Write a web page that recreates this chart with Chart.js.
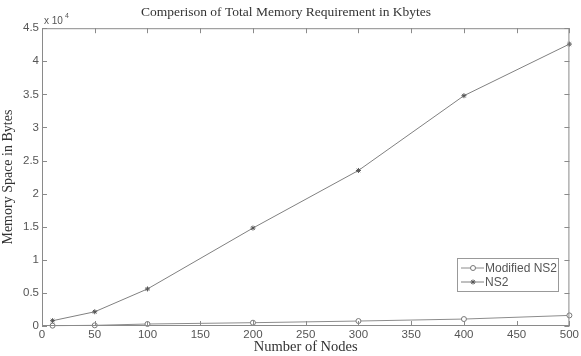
<!DOCTYPE html>
<html lang="en">
<head>
  <meta charset="UTF-8" />
  <title>Comperison of Total Memory Requirement in Kbytes</title>
  <script src="https://cdn.jsdelivr.net/npm/chart.js"></script>
  <style>
    * { box-sizing: border-box; }
    body { margin: 0; background: #fff; }
    #wrap { width: 581px; height: 356px; position: relative; }
  </style>
</head>
<body>
  <div id="wrap"><canvas id="grafico"></canvas></div>

  <script>
    // valores
    const nodes = [10, 50, 100, 200, 300, 400, 500];
    const modifiedNs2 = [50, 100, 300, 500, 750, 1050, 1600];
    const ns2 = [800, 2150, 5600, 14800, 23500, 34800, 42600];
    const xTicks = [0, 50, 100, 150, 200, 250, 300, 350, 400, 450, 500];
    const yTicks = [0, 5000, 10000, 15000, 20000, 25000, 30000, 35000, 40000, 45000];

    const sans = "'Liberation Sans', Arial, sans-serif";
    const serif = "'Liberation Serif', 'Times New Roman', serif";
    const axisColor = '#8a8a8a';
    const textColor = '#555';

    // caixa estilo matlab: ticks para dentro, borda em volta, legenda e expoente
    const matlabBox = {
      id: 'matlabBox',
      afterDraw(chart) {
        const ctx = chart.ctx;
        const a = chart.chartArea;
        const xs = chart.scales.x, ys = chart.scales.y;
        ctx.save();
        ctx.strokeStyle = axisColor;
        ctx.lineWidth = 1;
        ctx.strokeRect(a.left + 0.5, a.top + 0.5, a.right - a.left - 1, a.bottom - a.top - 1);
        ctx.beginPath();
        xTicks.forEach(v => {
          const px = Math.round(xs.getPixelForValue(v)) + 0.5;
          ctx.moveTo(px, a.bottom); ctx.lineTo(px, a.bottom - 5);
          ctx.moveTo(px, a.top); ctx.lineTo(px, a.top + 5);
        });
        yTicks.forEach(v => {
          const py = Math.round(ys.getPixelForValue(v)) + 0.5;
          ctx.moveTo(a.left, py); ctx.lineTo(a.left + 5, py);
          ctx.moveTo(a.right, py); ctx.lineTo(a.right - 5, py);
        });
        ctx.stroke();

        // x 10^4
        ctx.fillStyle = textColor;
        ctx.font = '10px ' + sans;
        ctx.textBaseline = 'alphabetic';
        ctx.fillText('x 10', a.left + 2, a.top - 4);
        ctx.font = '7px ' + sans;
        ctx.fillText('4', a.left + 23, a.top - 10);

        // legenda
        const lx = 457, ly = 258, lw = 101, lh = 33;
        ctx.fillStyle = '#fff';
        ctx.fillRect(lx, ly, lw, lh);
        ctx.strokeStyle = '#999';
        ctx.strokeRect(lx + 0.5, ly + 0.5, lw, lh);
        chart.data.datasets.forEach((ds, i) => {
          const y = ly + 10 + i * 14;
          ctx.strokeStyle = ds.borderColor;
          ctx.beginPath();
          ctx.moveTo(lx + 4, y); ctx.lineTo(lx + 27, y);
          ctx.stroke();
          ctx.strokeStyle = ds.pointBorderColor;
          Chart.helpers.drawPoint(ctx, {
            pointStyle: ds.pointStyle, radius: ds.pointRadius, borderWidth: 1
          }, lx + 16, y);
          ctx.fillStyle = textColor;
          ctx.font = '12px ' + sans;
          ctx.textBaseline = 'middle';
          ctx.fillText(ds.label, lx + 28, y + 1);
        });
        ctx.restore();
      }
    };

    new Chart(document.getElementById('grafico'), {
      type: 'line',
      data: {
        labels: nodes,
        datasets: [
          {
            label: 'Modified NS2',
            data: nodes.map((n, i) => ({ x: n, y: modifiedNs2[i] })),
            borderColor: '#8c8c8c',
            backgroundColor: '#fff',
            pointBorderColor: '#777',
            pointStyle: 'circle',
            pointRadius: 2.5,
            borderWidth: 1,
            tension: 0,
            clip: false
          },
          {
            label: 'NS2',
            data: nodes.map((n, i) => ({ x: n, y: ns2[i] })),
            borderColor: '#808080',
            backgroundColor: '#555',
            pointBorderColor: '#555',
            pointStyle: 'star',
            pointRadius: 2.5,
            borderWidth: 1,
            tension: 0,
            clip: false
          }
        ]
      },
      options: {
        responsive: true,
        maintainAspectRatio: false,
        animation: false,
        layout: { padding: { left: 0, right: 9, top: 0, bottom: 0 } },
        plugins: {
          legend: { display: false },
          tooltip: { enabled: false },
          title: {
            display: true,
            text: 'Comperison of Total Memory Requirement in Kbytes',
            color: '#333',
            font: { family: serif, size: 13.5, weight: 'normal' },
            padding: { top: 4, bottom: 8 }
          }
        },
        scales: {
          x: {
            type: 'linear',
            min: 0,
            max: 500,
            afterBuildTicks: s => { s.ticks = xTicks.map(v => ({ value: v })); },
            afterFit: s => { s.height = 30; },
            grid: { display: false, drawTicks: false },
            border: { display: false },
            ticks: { color: textColor, font: { family: sans, size: 11.5 }, padding: 2, maxRotation: 0 },
            title: {
              display: true,
              text: 'Number of Nodes',
              color: '#333',
              font: { family: serif, size: 14.5 },
              padding: { top: -3, bottom: 0 }
            }
          },
          y: {
            type: 'linear',
            min: 0,
            max: 45000,
            afterBuildTicks: s => { s.ticks = yTicks.map(v => ({ value: v })); },
            afterFit: s => { s.width = 42; },
            grid: { display: false, drawTicks: false },
            border: { display: false },
            ticks: {
              color: textColor,
              font: { family: sans, size: 11.5 },
              padding: 3,
              callback: v => String(v / 10000)
            },
            title: {
              display: true,
              text: 'Memory Space in Bytes',
              color: '#333',
              font: { family: serif, size: 14 },
              padding: { top: 0, bottom: 0 }
            }
          }
        }
      },
      plugins: [matlabBox]
    });
  </script>
</body>
</html>
